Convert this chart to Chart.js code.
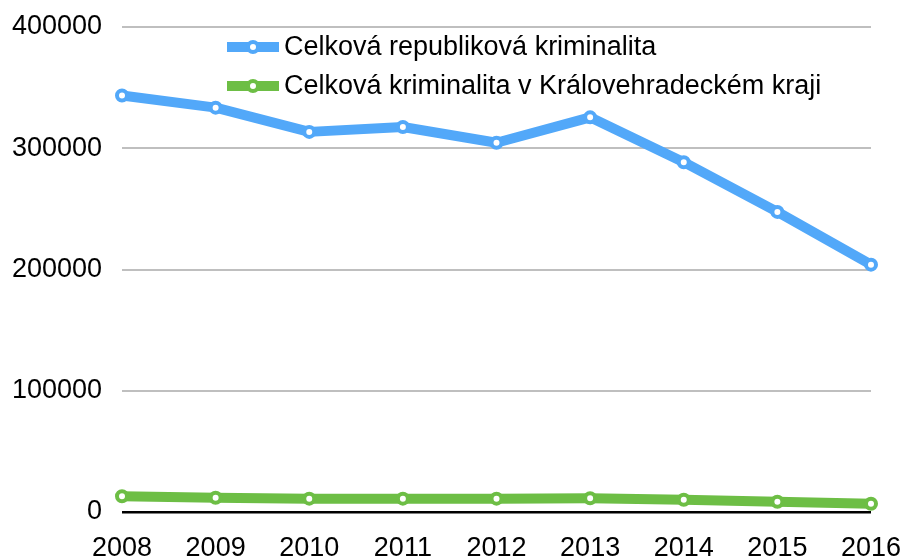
<!DOCTYPE html>
<html>
<head>
<meta charset="utf-8">
<script src="https://cdn.jsdelivr.net/npm/chart.js@4/dist/chart.umd.min.js"></script>
<style>
html,body{margin:0;padding:0;background:#fff;}
#wrap{width:903px;height:559px;position:relative;}
</style>
</head>
<body>
<div id="wrap"><canvas id="c" width="903" height="559"></canvas></div>
<script>
const years = ['2008','2009','2010','2011','2012','2013','2014','2015','2016'];
const republikaValues = [343500, 333500, 313500, 317500, 304500, 325500, 288500, 247500, 204000];
const krajValues = [13000, 11700, 11000, 11000, 11000, 11300, 10100, 8500, 6800];
const seriesNames = ['Celková republiková kriminalita', 'Celková kriminalita v Královehradeckém kraji'];
const yTicks = [0, 100000, 200000, 300000, 400000];

const BLUE = '#52a8f9';
const GREEN = '#6dbe45';
const FONT = '"Liberation Sans", Arial, sans-serif';
const FSIZE = 27;

const legendPlugin = {
  id: 'customLegend',
  afterDraw(chart) {
    const ctx = chart.ctx;
    const items = [
      {label: seriesNames[0], color: BLUE, y: 47},
      {label: seriesNames[1], color: GREEN, y: 86}
    ];
    ctx.save();
    items.forEach(it => {
      ctx.strokeStyle = it.color;
      ctx.lineWidth = 10;
      ctx.lineCap = 'butt';
      ctx.beginPath();
      ctx.moveTo(227, it.y);
      ctx.lineTo(279, it.y);
      ctx.stroke();
      ctx.beginPath();
      ctx.arc(253, it.y, 5, 0, Math.PI * 2);
      ctx.fillStyle = '#fff';
      ctx.fill();
      ctx.lineWidth = 4;
      ctx.strokeStyle = it.color;
      ctx.stroke();
      ctx.fillStyle = '#000';
      ctx.font = FSIZE + 'px ' + FONT;
      ctx.textBaseline = 'middle';
      ctx.textAlign = 'left';
      ctx.fillText(it.label, 284, it.y + 1);
    });
    ctx.restore();
  }
};

function ds(label, data, color) {
  return {
    label, data,
    borderColor: color,
    backgroundColor: color,
    borderWidth: 10,
    pointRadius: 5,
    pointBorderWidth: 4,
    pointBackgroundColor: '#fff',
    pointBorderColor: color,
    tension: 0,
    borderJoinStyle: 'round'
  };
}

new Chart(document.getElementById('c'), {
  type: 'line',
  data: {
    labels: years,
    datasets: [ds(seriesNames[0], republikaValues, BLUE), ds(seriesNames[1], krajValues, GREEN)]
  },
  options: {
    responsive: false,
    animation: false,
    layout: {padding: {top: 27, right: 32, left: 0, bottom: 0}},
    plugins: {legend: {display: false}, tooltip: {enabled: false}},
    scales: {
      x: {
        offset: false,
        grid: {display: false, drawTicks: false},
        border: {display: false},
        ticks: {color: '#000', font: {family: FONT, size: FSIZE}, padding: 20, maxRotation: 0, autoSkip: false},
        afterFit(s) { s.height = 47; s.paddingLeft = 0; s.paddingRight = 0; }
      },
      y: {
        min: 0, max: 400000,
        afterBuildTicks(s) { s.ticks = yTicks.map(v => ({value: v})); },
        grid: {
          drawTicks: false,
          color: ctx => ctx.tick && ctx.tick.value === 0 ? '#000' : '#bfbfbf',
          lineWidth: ctx => ctx.tick && ctx.tick.value === 0 ? 2.5 : 2
        },
        border: {display: false},
        ticks: {color: '#000', font: {family: FONT, size: FSIZE}, padding: 20, callback: v => String(v)},
        afterFit(s) { s.width = 122; s.paddingTop = 0; s.paddingBottom = 0; }
      }
    }
  },
  plugins: [legendPlugin]
});
</script>
</body>
</html>
